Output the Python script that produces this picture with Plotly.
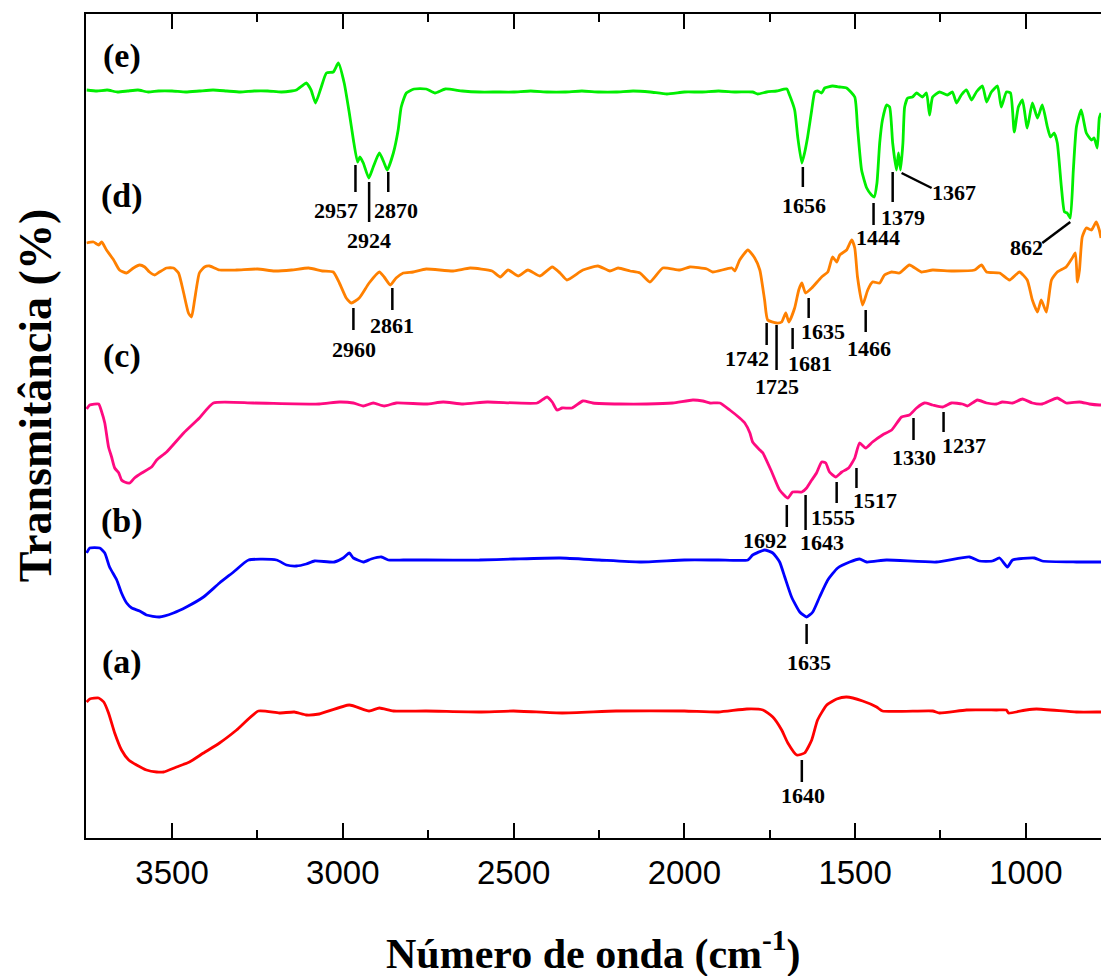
import plotly.graph_objects as go

# ---------------- data (wavenumber in cm-1, transmittance in arbitrary offset units) ----------------
wn_a = [3750, 3741, 3715, 3700, 3686, 3668, 3648, 3627, 3604, 3575, 3545, 3525, 3487, 3449, 3408,
        3361, 3311, 3247, 3186, 3142, 3107, 3069, 2981, 2923, 2893, 2852, 2756, 2600, 2500, 2358,
        2200, 2000, 1900, 1817, 1770, 1741, 1715, 1697, 1671, 1648, 1627, 1610, 1583, 1554, 1525,
        1478, 1437, 1420, 1273, 1253, 1174, 1086, 1057, 1051, 999, 969, 852, 785, 780]
t_a = [136, 139, 140, 136, 125, 105, 88, 78, 73, 68, 66, 66, 71, 76, 85,
       95, 108, 127, 125, 126, 123, 124, 133, 127, 130, 127, 127, 126, 127, 125,
       127, 127, 126, 129, 128, 121, 108, 95, 83, 85, 98, 118, 133, 139, 141,
       137, 131, 127, 127, 125, 128, 128, 128, 125, 128, 129, 126, 126, 126]

wn_b = [3750, 3741, 3712, 3697, 3683, 3662, 3648, 3633, 3618, 3595, 3575, 3537, 3496, 3458, 3408,
        3361, 3320, 3276, 3194, 3165, 3136, 3107, 3083, 3025, 2999, 2981, 2969, 2940, 2917, 2887,
        2867, 2823, 2756, 2600, 2500, 2364, 2250, 2130, 2000, 1900, 1814, 1800, 1765, 1741, 1721,
        1706, 1686, 1662, 1642, 1624, 1604, 1580, 1551, 1516, 1487, 1466, 1408, 1262, 1165, 1136,
        1098, 1077, 1054, 1039, 975, 952, 852, 785, 780]
t_b = [285, 290, 290, 285, 271, 258, 245, 235, 230, 227, 223, 221, 225, 231, 241,
       255, 266, 278, 278, 273, 272, 274, 277, 276, 280, 285, 280, 276, 279, 281,
       278, 278, 278, 278, 279, 280, 278, 276, 278, 278, 278, 283, 288, 285, 276,
       261, 241, 226, 221, 226, 241, 258, 270, 276, 279, 276, 278, 276, 281, 277,
       277, 280, 271, 278, 280, 277, 276, 276, 276]

wn_c = [3750, 3741, 3715, 3706, 3697, 3686, 3677, 3668, 3656, 3648, 3639, 3624, 3610, 3589, 3560,
        3545, 3516, 3466, 3420, 3379, 3262, 3069, 3010, 2969, 2940, 2911, 2879, 2844, 2756, 2706,
        2648, 2577, 2431, 2402, 2387, 2373, 2358, 2329, 2297, 2268, 2189, 2110, 2034, 1975, 1946,
        1925, 1896, 1867, 1838, 1823, 1808, 1800, 1779, 1770, 1744, 1721, 1697, 1683, 1656, 1642,
        1627, 1613, 1598, 1586, 1575, 1557, 1539, 1519, 1501, 1487, 1469, 1449, 1420, 1393, 1364,
        1341, 1320, 1297, 1273, 1244, 1218, 1186, 1171, 1142, 1115, 1086, 1069, 1039, 1010, 981,
        952, 908, 882, 843, 814, 785, 780]
t_c = [429, 433, 434, 426, 415, 391, 381, 370, 365, 358, 356, 355, 360, 365, 371,
       378, 386, 405, 420, 435, 435, 434, 436, 435, 432, 435, 432, 435, 434, 436,
       434, 436, 435, 441, 436, 428, 430, 430, 437, 435, 434, 434, 435, 438, 437,
       435, 435, 428, 420, 415, 405, 396, 388, 385, 366, 348, 340, 346, 346, 350,
       358, 365, 376, 375, 366, 361, 366, 370, 380, 395, 390, 396, 403, 408, 421,
       423, 430, 435, 433, 431, 435, 434, 432, 438, 435, 434, 436, 435, 439, 435,
       434, 440, 435, 436, 434, 433, 433]

wn_d = [3750, 3730, 3715, 3706, 3692, 3671, 3654, 3633, 3613, 3595, 3580, 3566, 3551, 3537, 3516,
        3496, 3481, 3466, 3452, 3443, 3434, 3420, 3405, 3390, 3361, 3311, 3250, 3200, 3150, 3100,
        3060, 3028, 3010, 2990, 2975, 2952, 2923, 2893, 2879, 2861, 2844, 2823, 2794, 2756, 2677,
        2627, 2563, 2539, 2516, 2487, 2458, 2423, 2387, 2364, 2344, 2297, 2253, 2218, 2194, 2159,
        2130, 2101, 2063, 2013, 1984, 1934, 1917, 1861, 1852, 1838, 1814, 1794, 1779, 1765, 1756,
        1730, 1715, 1703, 1694, 1677, 1665, 1656, 1645, 1627, 1598, 1580, 1566, 1554, 1545, 1525,
        1510, 1501, 1493, 1478, 1463, 1449, 1428, 1414, 1393, 1370, 1341, 1306, 1273, 1215, 1150,
        1130, 1115, 1077, 1048, 1019, 996, 981, 966, 955, 940, 925, 908, 882, 864, 855,
        849, 843, 835, 823, 808, 794, 785, 780]
t_d = [595, 596, 593, 596, 588, 578, 568, 565, 570, 573, 571, 566, 563, 566, 570,
       570, 565, 545, 525, 521, 538, 565, 571, 572, 568, 568, 569, 567, 568, 570,
       567, 566, 555, 540, 535, 540, 555, 566, 561, 553, 560, 565, 566, 569, 567,
       570, 567, 561, 568, 562, 568, 562, 571, 565, 558, 568, 572, 567, 570, 567,
       565, 556, 570, 568, 571, 569, 566, 570, 567, 578, 588, 580, 568, 538, 518,
       515, 516, 525, 516, 530, 548, 555, 545, 550, 561, 566, 581, 576, 583, 588,
       598, 590, 561, 533, 548, 556, 555, 563, 566, 565, 573, 566, 568, 567, 568,
       573, 566, 565, 558, 566, 558, 538, 526, 538, 526, 558, 566, 571, 580, 585,
       556, 568, 601, 610, 608, 616, 608, 600]

wn_e = [3750, 3720, 3690, 3660, 3630, 3600, 3570, 3540, 3500, 3460, 3420, 3380, 3340, 3300, 3260,
        3220, 3180, 3150, 3136, 3120, 3107, 3093, 3080, 3064, 3048, 3028, 3013, 2996, 2981, 2969,
        2957, 2950, 2940, 2924, 2911, 2893, 2879, 2870, 2852, 2838, 2829, 2814, 2791, 2756, 2730,
        2700, 2650, 2600, 2550, 2500, 2450, 2400, 2350, 2300, 2250, 2200, 2150, 2100, 2051, 2000,
        1950, 1900, 1850, 1800, 1785, 1759, 1730, 1700, 1692, 1677, 1668, 1656, 1648, 1639, 1627,
        1618, 1610, 1598, 1589, 1566, 1545, 1525, 1501, 1493, 1481, 1466, 1452, 1444, 1436, 1428,
        1420, 1408, 1399, 1390, 1379, 1373, 1367, 1360, 1355, 1346, 1332, 1320, 1303, 1291, 1282,
        1273, 1253, 1230, 1215, 1203, 1189, 1174, 1159, 1145, 1127, 1115, 1101, 1083, 1072, 1057,
        1045, 1034, 1022, 1010, 996, 981, 966, 952, 937, 928, 917, 908, 896, 887, 879,
        870, 861, 852, 838, 823, 808, 800, 791, 785, 780]
t_e = [748, 747, 748, 746, 747, 748, 746, 747, 747, 746, 747, 748, 747, 746, 747,
       747, 746, 747, 748, 752, 755, 748, 735, 750, 765, 766, 775, 755, 725, 698,
       676, 681, 675, 660, 671, 685, 675, 668, 685, 708, 731, 745, 749, 749, 745,
       749, 747, 746, 746, 746, 747, 746, 746, 747, 746, 746, 747, 746, 744, 746,
       746, 747, 746, 746, 744, 746, 747, 749, 743, 728, 701, 675, 685, 701, 728,
       746, 747, 745, 750, 752, 751, 750, 741, 711, 668, 650, 643, 641, 655, 695,
       718, 733, 731, 695, 668, 685, 668, 695, 731, 740, 741, 745, 741, 745, 723,
       741, 746, 743, 746, 735, 743, 748, 738, 746, 752, 736, 746, 752, 731, 746,
       745, 706, 731, 738, 710, 735, 720, 733, 711, 701, 705, 695, 651, 626, 625,
       620, 668, 711, 728, 705, 698, 700, 690, 720, 725]

series = [
    (wn_a, t_a, "#ff0000"),
    (wn_b, t_b, "#0000ff"),
    (wn_c, t_c, "#ff0a80"),
    (wn_d, t_d, "#ff8000"),
    (wn_e, t_e, "#00ee00"),
]

# panel labels
panel_labels = ["(a)", "(b)", "(c)", "(d)", "(e)"]
panel_label_y = [176, 317, 482, 642, 782]

# peak labels: text, line (x0, y0, x1, y1), text position (x, y)
peaks = [
    ("2957", 2963, 673, 2963, 646, 3019, 628),
    ("2924", 2923, 656, 2923, 616, 2923, 598),
    ("2870", 2867, 666, 2867, 646, 2844, 628),
    ("1656", 1653, 671, 1653, 651, 1650, 633),
    ("1444", 1446, 635, 1446, 613, 1434, 601),
    ("1379", 1390, 666, 1390, 636, 1361, 621),
    ("1367", 1364, 665, 1276, 650, 1209, 646),
    ("862", 870, 616, 952, 595, 998, 591),
    ("2960", 2969, 530, 2969, 508, 2966, 489),
    ("2861", 2855, 550, 2855, 528, 2855, 513),
    ("1742", 1759, 515, 1759, 493, 1817, 480),
    ("1725", 1730, 513, 1730, 468, 1730, 452),
    ("1681", 1683, 510, 1683, 489, 1633, 475),
    ("1635", 1636, 540, 1636, 520, 1595, 507),
    ("1466", 1469, 528, 1469, 506, 1460, 490),
    ("1692", 1700, 333, 1700, 311, 1765, 298),
    ("1643", 1645, 343, 1645, 308, 1598, 296),
    ("1555", 1554, 356, 1554, 335, 1566, 321),
    ("1517", 1496, 370, 1496, 350, 1443, 338),
    ("1330", 1329, 420, 1329, 398, 1329, 381),
    ("1237", 1241, 426, 1241, 406, 1180, 393),
    ("1635", 1642, 214, 1642, 194, 1636, 176),
    ("1640", 1656, 78, 1656, 56, 1653, 43),
]

SERIF = "Times New Roman, Liberation Serif, serif"
SANS = "Arial, Liberation Sans, sans-serif"

fig = go.Figure()
for wn, t, col in series:
    fig.add_trace(go.Scatter(x=wn, y=t, mode="lines",
                             line=dict(color=col, width=2.8, shape="spline", smoothing=0.5),
                             showlegend=False))

annotations = []
for lab, ly in zip(panel_labels, panel_label_y):
    annotations.append(dict(x=3648, y=ly, xref="x", yref="y", text="<b>%s</b>" % lab,
                            showarrow=False, xanchor="center", yanchor="middle",
                            font=dict(family=SERIF, size=34, color="black")))

for txt, x0, y0, x1, y1, tx, ty in peaks:
    fig.add_shape(type="line", x0=x0, y0=y0, x1=x1, y1=y1, xref="x", yref="y",
                  line=dict(color="black", width=2.5))
    annotations.append(dict(x=tx, y=ty, xref="x", yref="y", text="<b>%s</b>" % txt,
                            showarrow=False, xanchor="center", yanchor="middle",
                            font=dict(family=SERIF, size=22, color="black")))

# axis titles
annotations.append(dict(x=0.500, y=-0.137, xref="paper", yref="paper",
                        text="<b>Número de onda (cm<sup>-1</sup>)</b>", showarrow=False,
                        xanchor="center", yanchor="middle",
                        font=dict(family=SERIF, size=42, color="black")))
annotations.append(dict(x=-0.050, y=0.5376, xref="paper", yref="paper",
                        text="<b>Transmitância (%)</b>", showarrow=False, textangle=-90,
                        xanchor="center", yanchor="middle",
                        font=dict(family=SERIF, size=46, color="black")))

fig.update_layout(
    width=1101, height=976,
    margin=dict(l=86, r=0, t=14, b=138),
    plot_bgcolor="white", paper_bgcolor="white",
    showlegend=False,
    annotations=annotations,
    xaxis=dict(range=[3752, 780], tick0=0, dtick=500, ticks="inside", ticklen=15,
               tickwidth=2, tickcolor="black", showline=True, linewidth=2, linecolor="black",
               mirror="ticks", showgrid=False, zeroline=False,
               tickfont=dict(family=SANS, size=33, color="black"), ticklabelstandoff=4,
               minor=dict(tick0=0, dtick=250, ticks="inside", ticklen=8, tickwidth=2,
                          tickcolor="black", showgrid=False)),
    yaxis=dict(range=[0, 824], showline=True, linewidth=2, linecolor="black",
               showticklabels=False, ticks="", showgrid=False, zeroline=False),
)

fig.write_html("out.html", config={"displayModeBar": False},
               post_script="document.body.style.margin='0';document.body.style.overflow='hidden';")
